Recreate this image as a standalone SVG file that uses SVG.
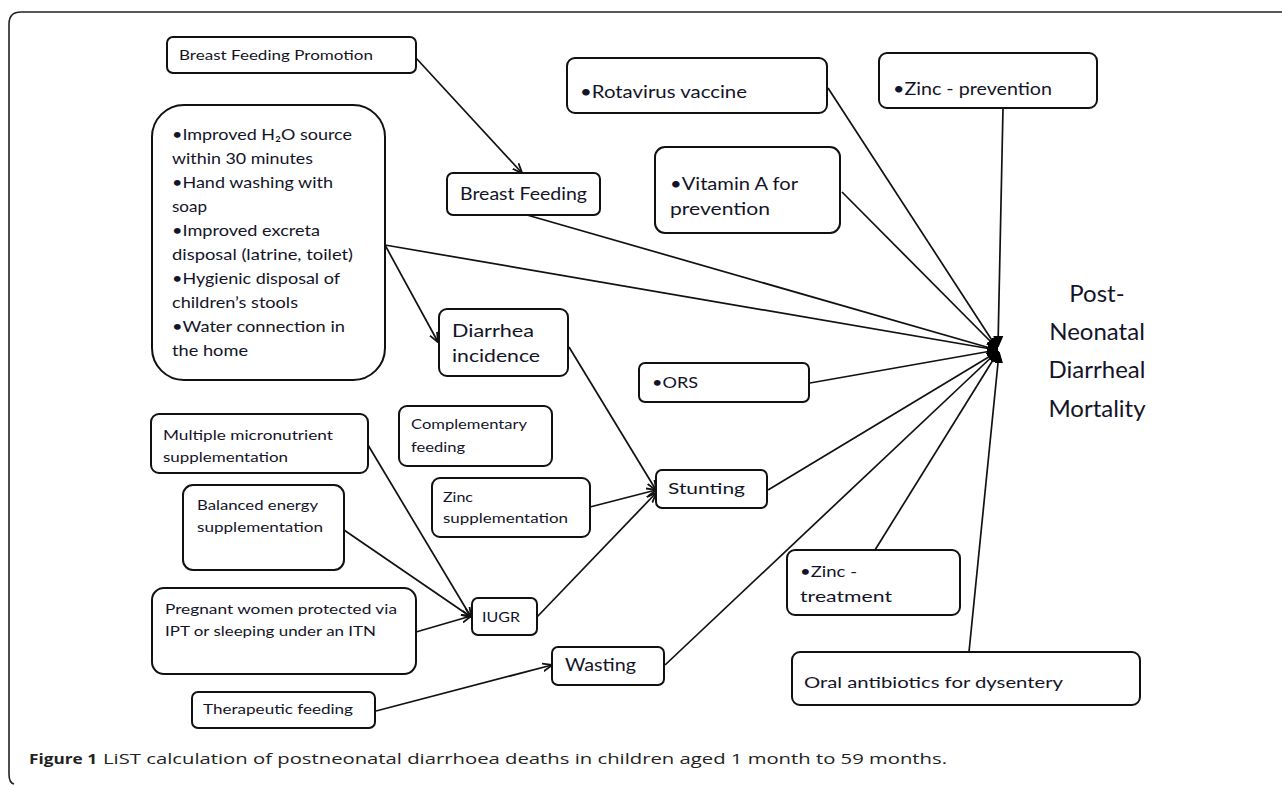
<svg xmlns="http://www.w3.org/2000/svg" width="1282" height="785" viewBox="0 0 1282 785">
<defs>
<style>
.box{fill:#fff;stroke:#111;stroke-width:2}
.t{font-family:Lato,"Liberation Sans",sans-serif;fill:#141428}
.s13{font-size:13px}
.s16{font-size:16px}
.s18{font-size:18px}
.big{font-size:24px}
.c{fill:none;stroke:#111;stroke-width:1.7}
.cap{font-family:"Open Sans","Liberation Sans",sans-serif;font-size:15px;fill:#222}
</style>
<marker id="ah" viewBox="0 0 10 10" refX="9.5" refY="5" markerWidth="10" markerHeight="10" markerUnits="userSpaceOnUse" orient="auto">
<path d="M0,1 L10,5 L0,9" fill="none" stroke="#111" stroke-width="1.8"/>
</marker>
<marker id="hub" viewBox="0 0 10 10" refX="9" refY="5" markerWidth="11" markerHeight="11" markerUnits="userSpaceOnUse" orient="auto">
<path d="M0,1 L10,5 L0,9 Z" fill="#000" stroke="#000" stroke-width="1"/>
</marker>
</defs>
<rect width="1282" height="785" fill="#fff"/>
<path d="M1282,12 H21 Q9,12 9,24 V774 Q9,783 14,784" fill="none" stroke="#222" stroke-width="1.6"/>

<g id="connectors">
<path class="c" d="M416,58 L522,173" marker-end="url(#ah)"/>
<path class="c" d="M527,215 L997,350" marker-end="url(#hub)"/>
<path class="c" d="M385,245 L997,350" marker-end="url(#hub)"/>
<path class="c" d="M385,245 L438,342" marker-end="url(#ah)"/>
<path class="c" d="M828,88 L997,348" marker-end="url(#hub)"/>
<path class="c" d="M842,192 L997,348" marker-end="url(#hub)"/>
<path class="c" d="M1003,108 L998,346" marker-end="url(#hub)"/>
<path class="c" d="M810,383 L997,350" marker-end="url(#hub)"/>
<path class="c" d="M768,490 L997,352" marker-end="url(#hub)"/>
<path class="c" d="M665,665 L997,352" marker-end="url(#hub)"/>
<path class="c" d="M875,550 L998,352" marker-end="url(#hub)"/>
<path class="c" d="M969,652 L999,353" marker-end="url(#hub)"/>
<path class="c" d="M569,347 L656,490" marker-end="url(#ah)"/>
<path class="c" d="M590,507 L656,490" stroke-width="2.6" marker-end="url(#ah)"/>
<path class="c" d="M537,617 L656,493" marker-end="url(#ah)"/>
<path class="c" d="M368,445 L471,617" marker-end="url(#ah)"/>
<path class="c" d="M344,530 L471,617" marker-end="url(#ah)"/>
<path class="c" d="M416,632 L471,616" marker-end="url(#ah)"/>
<path class="c" d="M376,711 L552,665" marker-end="url(#ah)"/>
</g>

<g id="bfp"><rect class="box" x="167" y="37" width="249" height="36" rx="6"/>
<text class="t s13" x="179" y="60" textLength="194" lengthAdjust="spacingAndGlyphs">Breast Feeding  Promotion</text></g>

<g id="wash"><rect class="box" x="152" y="105" width="233" height="275" rx="32"/>
<text class="t s16" x="172" y="140" textLength="180" lengthAdjust="spacingAndGlyphs">•Improved H₂O source</text>
<text class="t s16" x="172" y="164" textLength="141" lengthAdjust="spacingAndGlyphs">within  30 minutes</text>
<text class="t s16" x="172" y="188" textLength="161" lengthAdjust="spacingAndGlyphs">•Hand  washing with</text>
<text class="t s16" x="172" y="212" textLength="35" lengthAdjust="spacingAndGlyphs">soap</text>
<text class="t s16" x="172" y="236" textLength="148" lengthAdjust="spacingAndGlyphs">•Improved excreta</text>
<text class="t s16" x="172" y="260" textLength="181" lengthAdjust="spacingAndGlyphs">disposal (latrine, toilet)</text>
<text class="t s16" x="172" y="284" textLength="168" lengthAdjust="spacingAndGlyphs">•Hygienic disposal of</text>
<text class="t s16" x="172" y="308" textLength="126" lengthAdjust="spacingAndGlyphs">children’s  stools</text>
<text class="t s16" x="172" y="332" textLength="173" lengthAdjust="spacingAndGlyphs">•Water connection  in</text>
<text class="t s16" x="172" y="356" textLength="76" lengthAdjust="spacingAndGlyphs">the home</text></g>

<g id="bf"><rect class="box" x="447" y="173" width="153" height="42" rx="6"/>
<text class="t s18" x="460" y="200" textLength="127" lengthAdjust="spacingAndGlyphs">Breast Feeding</text></g>

<g id="rota"><rect class="box" x="567" y="58" width="260" height="55" rx="8"/>
<text class="t s18" x="580" y="98" textLength="167" lengthAdjust="spacingAndGlyphs">•Rotavirus vaccine</text></g>

<g id="vita"><rect class="box" x="655" y="147" width="185" height="86" rx="10"/>
<text class="t s18" x="670" y="190" textLength="128" lengthAdjust="spacingAndGlyphs">•Vitamin A for</text>
<text class="t s18" x="670" y="215" textLength="100" lengthAdjust="spacingAndGlyphs">prevention</text></g>

<g id="zincprev"><rect class="box" x="879" y="53" width="218" height="55" rx="8"/>
<text class="t s18" x="893" y="95" textLength="159" lengthAdjust="spacingAndGlyphs">•Zinc - prevention</text></g>

<g id="ors"><rect class="box" x="639" y="363" width="170" height="39" rx="6"/>
<text class="t s16" x="652" y="388" textLength="46" lengthAdjust="spacingAndGlyphs">•ORS</text></g>

<g id="stunting"><rect class="box" x="656" y="470" width="111" height="38" rx="6"/>
<text class="t s16" x="668" y="494" textLength="77" lengthAdjust="spacingAndGlyphs">Stunting</text></g>

<g id="zinctreat"><rect class="box" x="787" y="550" width="173" height="65" rx="8"/>
<text class="t s16" x="800" y="577" textLength="57" lengthAdjust="spacingAndGlyphs">•Zinc -</text>
<text class="t s16" x="800" y="602" textLength="92" lengthAdjust="spacingAndGlyphs">treatment</text></g>

<g id="oral"><rect class="box" x="792" y="652" width="348" height="53" rx="8"/>
<text class="t s16" x="804" y="688" textLength="259" lengthAdjust="spacingAndGlyphs">Oral antibiotics for dysentery</text></g>

<g id="wasting"><rect class="box" x="552" y="647" width="112" height="38" rx="6"/>
<text class="t s18" x="565" y="671" textLength="71" lengthAdjust="spacingAndGlyphs">Wasting</text></g>

<g id="diarrhea"><rect class="box" x="439" y="309" width="129" height="67" rx="8"/>
<text class="t s18" x="452" y="337" textLength="82" lengthAdjust="spacingAndGlyphs">Diarrhea</text>
<text class="t s18" x="452" y="362" textLength="88" lengthAdjust="spacingAndGlyphs">incidence</text></g>

<g id="compfeed"><rect class="box" x="399" y="406" width="153" height="60" rx="8"/>
<text class="t s13" x="411" y="429" textLength="116" lengthAdjust="spacingAndGlyphs">Complementary</text>
<text class="t s13" x="411" y="452" textLength="54" lengthAdjust="spacingAndGlyphs">feeding</text></g>

<g id="zincsup"><rect class="box" x="432" y="478" width="158" height="59" rx="8"/>
<text class="t s13" x="443" y="502" textLength="30" lengthAdjust="spacingAndGlyphs">Zinc</text>
<text class="t s13" x="443" y="523" textLength="125" lengthAdjust="spacingAndGlyphs">supplementation</text></g>

<g id="mm"><rect class="box" x="151" y="414" width="217" height="59" rx="8"/>
<text class="t s13" x="163" y="440" textLength="170" lengthAdjust="spacingAndGlyphs">Multiple micronutrient</text>
<text class="t s13" x="163" y="462" textLength="125" lengthAdjust="spacingAndGlyphs">supplementation</text></g>

<g id="be"><rect class="box" x="183" y="485" width="161" height="85" rx="10"/>
<text class="t s13" x="197" y="510" textLength="121" lengthAdjust="spacingAndGlyphs">Balanced  energy</text>
<text class="t s13" x="197" y="532" textLength="126" lengthAdjust="spacingAndGlyphs">supplementation</text></g>

<g id="pw"><rect class="box" x="152" y="588" width="264" height="86" rx="12"/>
<text class="t s13" x="165" y="614" textLength="232" lengthAdjust="spacingAndGlyphs">Pregnant  women  protected via</text>
<text class="t s13" x="165" y="636" textLength="211" lengthAdjust="spacingAndGlyphs">IPT or sleeping  under an ITN</text></g>

<g id="iugr"><rect class="box" x="472" y="598" width="65" height="37" rx="6"/>
<text class="t s13" x="482" y="622" textLength="38" lengthAdjust="spacingAndGlyphs">IUGR</text></g>

<g id="tf"><rect class="box" x="192" y="692" width="183" height="36" rx="6"/>
<text class="t s13" x="203" y="714" textLength="150" lengthAdjust="spacingAndGlyphs">Therapeutic  feeding</text></g>

<g id="outcome">
<text class="t big" x="1097" y="302" text-anchor="middle">Post-</text>
<text class="t big" x="1097" y="340" text-anchor="middle">Neonatal</text>
<text class="t big" x="1097" y="378" text-anchor="middle">Diarrheal</text>
<text class="t big" x="1097" y="417" text-anchor="middle">Mortality</text>
</g>

<g id="caption">
<text class="cap" x="29" y="764" font-weight="bold" fill="#111" font-size="16" textLength="68" lengthAdjust="spacingAndGlyphs">Figure 1</text>
<text class="cap" x="103" y="764" textLength="844" lengthAdjust="spacingAndGlyphs">LiST calculation of postneonatal diarrhoea deaths in children aged 1 month to 59 months.</text>
</g>
</svg>
